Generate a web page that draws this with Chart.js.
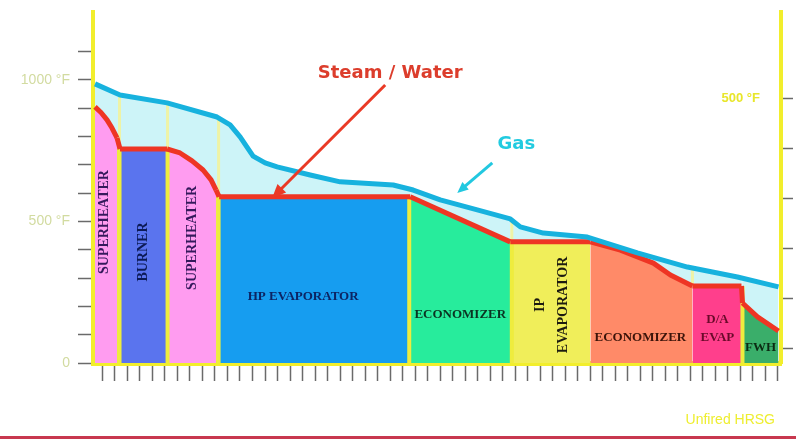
<!DOCTYPE html>
<html>
<head>
<meta charset="utf-8">
<script src="https://cdn.jsdelivr.net/npm/chart.js@4.4.1/dist/chart.umd.min.js"></script>
<style>
  html, body { margin: 0; padding: 0; background: #fff; }
  #wrap { position: relative; width: 796px; height: 439px; }
  #rule { position: absolute; left: 0; right: 0; bottom: 0; height: 3px; background: #c8384f; }
</style>
</head>
<body>
<div id="wrap">
  <canvas id="hrsg" width="796" height="439"></canvas>
  <div id="rule"></div>
</div>
<script>
// ── Data: x = position along the HRSG (tick intervals), y = temperature °F ──

const steamX = [0.16, 0.64, 1.12, 1.52, 1.92, 2.16, 5.92, 6.96, 7.92, 8.8, 9.44, 9.84, 10.08,
                25.36, 33.36, 39.76, 42.16, 44.8, 46.16, 47.92, 51.84, 51.92, 53.12, 54.8];
const steamT = [905, 885, 859, 830, 795, 756, 756, 742, 714, 682, 647, 611, 587,
                587, 428, 428, 399, 353, 311, 272, 272, 212, 163, 113];

const gasX = [0.16, 2.16, 5.92, 9.92, 10.96, 11.76, 12.8, 13.76, 14.72, 17.36, 19.76, 24.0,
              25.6, 27.76, 30.72, 33.36, 34.16, 36.0, 39.52, 43.52, 47.52, 51.52, 54.8];
const gasT = [986, 947, 919, 869, 841, 799, 731, 707, 693, 664, 640, 629,
              611, 576, 541, 509, 481, 459, 445, 389, 339, 304, 269];

const sectionLines = [['SUPERHEATER'], ['BURNER'], ['SUPERHEATER'], ['HP EVAPORATOR'], ['ECONOMIZER'],
                      ['IP', 'EVAPORATOR'], ['ECONOMIZER'], ['D/A', 'EVAP'], ['FWH']];
const sectionStart = [0.16, 2.24, 6.08, 10.16, 25.44, 33.6, 39.76, 47.92, 52.08];
const sectionEnd = [2.0, 5.84, 9.92, 25.12, 33.36, 39.76, 47.92, 51.76, 54.8];
const labelX = [0.88, 4.04, 7.92, 16.8, 29.36, 36.68, 43.76, 49.92, 53.36];
const labelT = [498, 392, 442, 233, 170, 205, 88, 120, 53];

// yellow separators between sections, and the faint ones through the gas band
const dividerX = [2.12, 5.96, 10.04, 25.28, 33.48, 51.92];
const dividerTop = [756, 756, 587, 587, 428, 272];
const ventX = [2.12, 5.96, 10.04, 33.48, 47.92];
const ventLow = [756, 756, 587, 428, 272];
const ventHigh = [947, 919, 869, 505, 339];

const leftTickLabels = { 0: '0', 500: '500 °F', 1000: '1000 °F' };
const rightTicks = [0, 100, 200, 300, 400, 500];
const rightAxisLabel = { value: 500, text: '500 °F' };

// ── Styles ──────────────────────────────────────────────────────────────────

const SECTION_COLORS = ['#ff9cf0', '#5a74ee', '#ff9cf0', '#169df0', '#27ec9c',
                        '#f0ee5a', '#ff8a68', '#ff3f8c', '#3aae6a'];
const SECTION_TEXT = ['#35195c', '#0c1a55', '#35195c', '#0c2463', '#0b3322',
                      '#1c1a10', '#3c140a', '#6a0a2a', '#0b2a12'];
const ROTATED = [true, true, true, false, false, true, false, false, false];
const LINE_GAP = [0, 0, 0, 0, 0, 23, 0, 18, 0];
const DIVIDER_COLOR = '#eeec3e';
const AXIS_YELLOW = '#f2ee2c';

function sectionColor(x) {
    for (let i = 0; i < sectionStart.length; i++) {
        if (x >= sectionStart[i] && x <= sectionEnd[i]) return SECTION_COLORS[i];
    }
    return DIVIDER_COLOR;
}

function verticals(xs, lows, highs) {
    const pts = [];
    xs.forEach((x, i) => {
        pts.push({ x, y: lows[i] }, { x, y: highs[i] }, { x, y: null });
    });
    return pts;
}

function arrow(ctx, x1, y1, x2, y2, color, width, head) {
    const a = Math.atan2(y2 - y1, x2 - x1);
    ctx.strokeStyle = color;
    ctx.fillStyle = color;
    ctx.lineWidth = width;
    ctx.beginPath();
    ctx.moveTo(x1, y1);
    ctx.lineTo(x2 - Math.cos(a) * head * 0.7, y2 - Math.sin(a) * head * 0.7);
    ctx.stroke();
    ctx.beginPath();
    ctx.moveTo(x2, y2);
    ctx.lineTo(x2 - head * Math.cos(a - 0.42), y2 - head * Math.sin(a - 0.42));
    ctx.lineTo(x2 - head * Math.cos(a + 0.42), y2 - head * Math.sin(a + 0.42));
    ctx.closePath();
    ctx.fill();
}

// keep the plot frame where the slide has it: no extra room for edge labels
function noEdgePadding(s) {
    s.paddingTop = 0;
    s.paddingBottom = 0;
    s.paddingLeft = 0;
    s.paddingRight = 0;
}

// labels, call-outs and arrows, placed through the chart's own scales
const annotations = {
    id: 'annotations',
    afterDatasetsDraw(chart) {
        const { ctx, scales: { x, y, y2 }, chartArea } = chart;
        ctx.save();
        ctx.textBaseline = 'middle';
        ctx.textAlign = 'center';

        sectionLines.forEach((lines, i) => {
            const px = x.getPixelForValue(labelX[i]);
            const py = y.getPixelForValue(labelT[i]);
            ctx.fillStyle = SECTION_TEXT[i];
            ctx.font = ROTATED[i] ? 'bold 14px "Liberation Serif"' : 'bold 13px "Liberation Serif"';
            ctx.save();
            ctx.translate(px, py);
            if (ROTATED[i]) ctx.rotate(-Math.PI / 2);
            const off = (lines.length - 1) * LINE_GAP[i] / 2;
            lines.forEach((t, j) => ctx.fillText(t, 0, j * LINE_GAP[i] - off));
            ctx.restore();
        });

        // Steam / Water call-out
        arrow(ctx, x.getPixelForValue(23.36), y.getPixelForValue(982),
              x.getPixelForValue(14.32), y.getPixelForValue(583), '#ea3a26', 3, 15);
        ctx.fillStyle = '#dc3d2c';
        ctx.font = 'bold 18px "DejaVu Sans"';
        ctx.fillText('Steam / Water', x.getPixelForValue(23.76), y.getPixelForValue(1025));

        // Gas call-out
        arrow(ctx, x.getPixelForValue(31.92), y.getPixelForValue(707),
              x.getPixelForValue(29.12), y.getPixelForValue(601), '#22c8e0', 3, 12);
        ctx.fillStyle = '#22cbe0';
        ctx.fillText('Gas', x.getPixelForValue(33.84), y.getPixelForValue(774));

        // right-hand scale label sits inside the frame
        ctx.textAlign = 'right';
        ctx.fillStyle = '#e8e62a';
        ctx.font = 'bold 13px "Liberation Sans"';
        ctx.fillText(rightAxisLabel.text, chartArea.right - 21, y2.getPixelForValue(rightAxisLabel.value));

        ctx.fillStyle = '#eeee30';
        ctx.font = '14px "Liberation Sans"';
        ctx.fillText('Unfired HRSG', chartArea.right - 6, chartArea.bottom + 57);
        ctx.restore();
    },
};

new Chart(document.getElementById('hrsg'), {
    type: 'line',
    data: {
        datasets: [
            {
                label: 'Gas',
                data: gasX.map((x, i) => ({ x, y: gasT[i] })),
                borderColor: '#17b2de',
                borderWidth: 5,
                backgroundColor: '#cdf4f8',
                fill: '+1',
                order: 0,
            },
            {
                label: 'Steam / Water',
                data: steamX.map((x, i) => ({ x, y: steamT[i] })),
                borderColor: '#ee3524',
                borderWidth: 5,
                backgroundColor: DIVIDER_COLOR,
                fill: 'origin',
                segment: {
                    backgroundColor: c => sectionColor((c.p0.parsed.x + c.p1.parsed.x) / 2),
                },
                order: 1,
            },
            {
                label: 'vents',
                data: verticals(ventX, ventLow, ventHigh),
                borderColor: '#eef3a6',
                borderWidth: 3,
                fill: false,
                order: 2,
            },
            {
                label: 'dividers',
                data: verticals(dividerX, dividerX.map(() => 0), dividerTop),
                borderColor: DIVIDER_COLOR,
                borderWidth: 4,
                fill: false,
                order: 3,
            },
        ],
    },
    options: {
        responsive: false,
        animation: false,
        layout: { padding: { top: 12, left: 0, right: 0, bottom: 0 } },
        elements: {
            point: { radius: 0, hoverRadius: 0 },
            line: { tension: 0, borderCapStyle: 'butt', borderJoinStyle: 'round' },
        },
        spanGaps: false,
        plugins: {
            legend: { display: false },
            tooltip: { enabled: false },
            filler: { drawTime: 'beforeDatasetsDraw' },
        },
        scales: {
            x: {
                type: 'linear',
                min: 0,
                max: 55,
                afterBuildTicks: s => {
                    s.ticks = Array.from({ length: 55 }, (_, i) => ({ value: 0.75 + i }));
                },
                afterFit: s => { s.height = 76; noEdgePadding(s); },
                ticks: { callback: () => '' },
                grid: { drawOnChartArea: false, tickLength: 18, tickColor: '#6a6a6a', tickWidth: 1.5 },
                border: { color: AXIS_YELLOW, width: 5 },
            },
            y: {
                position: 'left',
                min: 0,
                max: 1240,
                ticks: {
                    stepSize: 100,
                    padding: 8,
                    color: '#d2dba0',
                    font: { family: 'Liberation Sans', size: 14 },
                    callback: v => leftTickLabels[v] ?? '',
                },
                afterBuildTicks: s => { s.ticks = s.ticks.filter(t => t.value % 100 === 0); },
                afterFit: s => { s.width = 93; noEdgePadding(s); },
                grid: { drawOnChartArea: false, tickLength: 15, tickColor: '#6a6a6a', tickWidth: 1.5 },
                border: { color: AXIS_YELLOW, width: 4 },
            },
            y2: {
                position: 'right',
                min: -30,
                max: 672,
                ticks: { callback: () => '' },
                afterBuildTicks: s => { s.ticks = rightTicks.map(v => ({ value: v })); },
                afterFit: s => { s.width = 15; noEdgePadding(s); },
                grid: { drawOnChartArea: false, tickLength: 12, tickColor: '#6a6a6a', tickWidth: 1.5 },
                border: { color: AXIS_YELLOW, width: 4 },
            },
        },
    },
    plugins: [annotations],
});
</script>
</body>
</html>
